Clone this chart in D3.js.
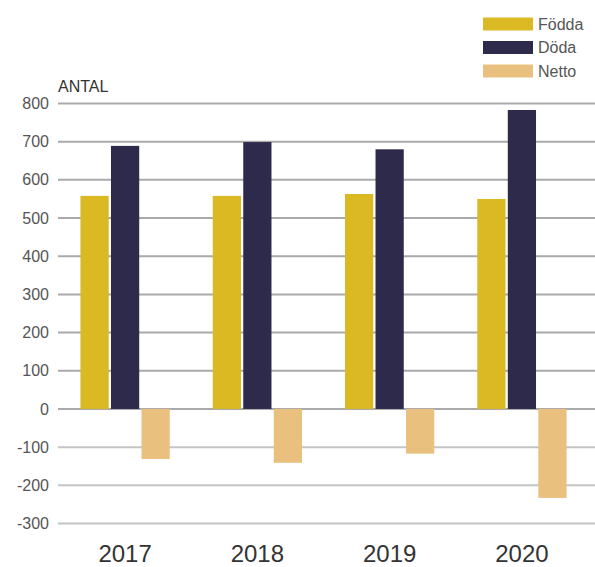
<!DOCTYPE html>
<html>
<head>
<meta charset="utf-8">
<script src="https://cdn.jsdelivr.net/npm/d3@7"></script>
<style>
  body { margin: 0; background: #fff; }
  svg text { font-family: "Liberation Sans", Arial, sans-serif; }
</style>
</head>
<body>
<div id="chart"></div>
<script>
// data
const years = ["2017", "2018", "2019", "2020"];
const seriesNames = ["Födda", "Döda", "Netto"];
const fodda = [558, 558, 563, 550];
const doda = [689, 699, 680, 783];
const netto = [-131, -141, -117, -233];
const yTicks = [800, 700, 600, 500, 400, 300, 200, 100, 0, -100, -200, -300];
const colors = ["#dbb923", "#2e2a4b", "#e9c07e"];

const width = 595;
const height = 567;

const svg = d3.select("#chart").append("svg")
  .attr("width", width)
  .attr("height", height);

// scales
const y = d3.scaleLinear().domain([-300, 800]).range([523.5, 103.5]);
const x = d3.scaleBand().domain(years).range([54, 593]).paddingInner(0.325).paddingOuter(0.2);
const xInner = d3.scaleBand().domain(seriesNames).range([0, x.bandwidth()]).paddingInner(0.075);

// grid lines
svg.append("g")
  .selectAll("line")
  .data(yTicks)
  .enter()
  .append("line")
  .attr("x1", 58)
  .attr("x2", width)
  .attr("y1", (d) => y(d))
  .attr("y2", (d) => y(d))
  .attr("stroke", (d) => (d < 0 ? "#c4c4c4" : "#aaaaaa"))
  .attr("stroke-width", 2);

// y axis labels
svg.append("g")
  .selectAll("text")
  .data(yTicks)
  .enter()
  .append("text")
  .attr("x", 49)
  .attr("y", (d) => y(d))
  .attr("dy", "0.35em")
  .attr("text-anchor", "end")
  .attr("fill", "#555")
  .style("font-size", "16px")
  .text((d) => d);

svg.append("text")
  .attr("x", 58)
  .attr("y", 92)
  .attr("fill", "#333")
  .style("font-size", "16px")
  .text("ANTAL");

// bars
const rows = years.map((yr, i) => ({
  year: yr,
  values: [fodda[i], doda[i], netto[i]]
}));

const groups = svg.append("g")
  .selectAll("g")
  .data(rows)
  .enter()
  .append("g")
  .attr("transform", (d) => `translate(${x(d.year)},0)`);

groups.selectAll("rect")
  .data((d) => d.values.map((v, k) => ({ name: seriesNames[k], value: v, k: k })))
  .enter()
  .append("rect")
  .attr("x", (d) => xInner(d.name))
  .attr("width", xInner.bandwidth())
  .attr("y", (d) => y(Math.max(0, d.value)))
  .attr("height", (d) => Math.abs(y(d.value) - y(0)))
  .attr("fill", (d) => colors[d.k]);

// x labels
svg.append("g")
  .selectAll("text")
  .data(years)
  .enter()
  .append("text")
  .attr("x", (d) => x(d) + x.bandwidth() / 2)
  .attr("y", 562)
  .attr("text-anchor", "middle")
  .attr("fill", "#333")
  .style("font-size", "24px")
  .text((d) => d);

// legend
const legend = svg.append("g")
  .selectAll("g")
  .data(seriesNames)
  .enter()
  .append("g")
  .attr("transform", (d, i) => `translate(483,${24 + i * 23.5})`);

legend.append("rect")
  .attr("x", 0)
  .attr("y", -6.5)
  .attr("width", 50)
  .attr("height", 13)
  .attr("fill", (d, i) => colors[i]);

legend.append("text")
  .attr("x", 55)
  .attr("y", 0)
  .attr("dy", "0.35em")
  .attr("fill", "#555")
  .style("font-size", "16px")
  .text((d) => d);
</script>
</body>
</html>
